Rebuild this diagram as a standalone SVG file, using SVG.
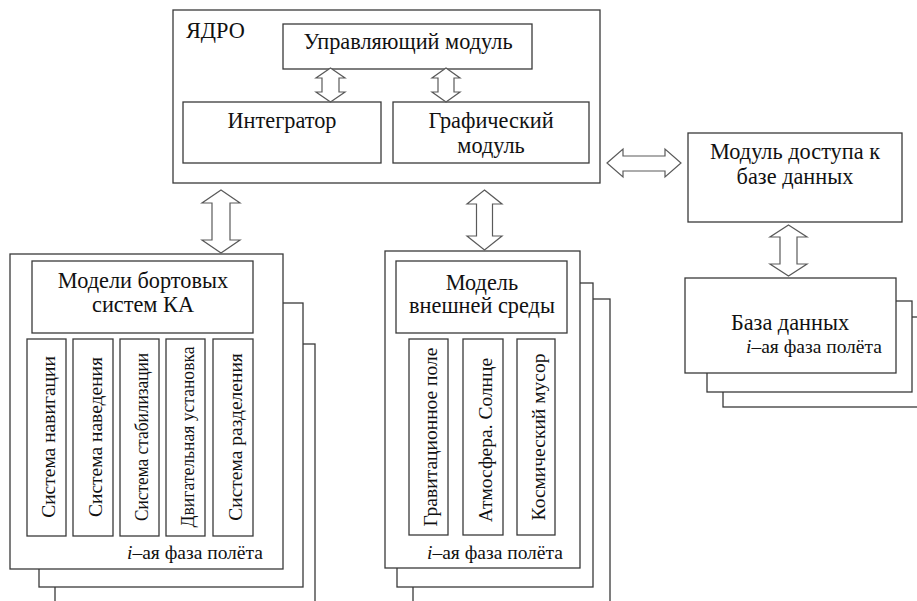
<svg xmlns="http://www.w3.org/2000/svg" width="917" height="601" viewBox="0 0 917 601">
<style>
.box{fill:#fff;stroke:#3a3a3a;stroke-width:1.3}
.arr{fill:#fff;stroke:#5a5a5a;stroke-width:1.2;stroke-linejoin:miter}
.ph{font-size:19.5px}
</style>
<rect width="917" height="601" fill="#fff"/>
<g font-family="Liberation Serif, Times New Roman, serif" fill="#111">
<g font-size="22.3" text-anchor="middle">
<g id="core">
<rect class="box" x="173" y="10" width="427" height="173"/>
<text x="186" y="38" text-anchor="start">ЯДРО</text>
</g>
<g id="control">
<rect class="box" x="283" y="24" width="249" height="45"/>
<text x="408" y="49">Управляющий модуль</text>
</g>
<g id="integrator">
<rect class="box" x="183" y="102" width="198" height="61"/>
<text x="282" y="128">Интегратор</text>
</g>
<g id="graphics">
<rect class="box" x="393" y="102" width="196" height="61"/>
<text x="491" y="128">Графический</text>
<text x="491" y="153">модуль</text>
</g>
<g id="db-access">
<rect class="box" x="688" y="133" width="214" height="89"/>
<text x="795" y="159">Модуль доступа к</text>
<text x="795" y="184">базе данных</text>
</g>
<g id="database">
<rect class="box" x="723" y="317" width="210" height="90"/>
<rect class="box" x="707" y="301" width="205" height="91"/>
<rect class="box" x="685" y="278" width="211" height="95"/>
<text x="790" y="330">База данных</text>
<text class="ph" x="746" y="353" text-anchor="start"><tspan font-style="italic">i</tspan>–ая фаза полёта</text>
</g>
<g id="onboard">
<rect class="box" x="55" y="344" width="260" height="280"/>
<rect class="box" x="39" y="303" width="264" height="284"/>
<rect class="box" x="10" y="254" width="273" height="315"/>
<rect class="box" x="32" y="261" width="221" height="72"/>
<text x="143" y="288">Модели бортовых</text>
<text x="143" y="312">систем КА</text>
<text class="ph" x="127" y="559" text-anchor="start"><tspan font-style="italic">i</tspan>–ая фаза полёта</text>
</g>
<g id="environment">
<rect class="box" x="413" y="299" width="197" height="325"/>
<rect class="box" x="397" y="283" width="196" height="304"/>
<rect class="box" x="385" y="251" width="195" height="317"/>
<rect class="box" x="396" y="261" width="171" height="72"/>
<text x="482" y="290">Модель</text>
<text x="482" y="313">внешней среды</text>
<text class="ph" x="427" y="559" text-anchor="start"><tspan font-style="italic">i</tspan>–ая фаза полёта</text>
</g>
</g>
<g font-size="19.5" text-anchor="middle">
<g id="nav">
<rect class="box" x="27" y="339" width="39" height="197"/>
<text transform="translate(55,437) rotate(-90)">Система навигации</text>
</g>
<g id="guidance">
<rect class="box" x="73" y="339" width="40" height="197"/>
<text transform="translate(102,437) rotate(-90)">Система наведения</text>
</g>
<g id="stabilization">
<rect class="box" x="120" y="339" width="39" height="197"/>
<text transform="translate(148,437) rotate(-90)" textLength="168" lengthAdjust="spacingAndGlyphs">Система стабилизации</text>
</g>
<g id="engine">
<rect class="box" x="166" y="339" width="39" height="197"/>
<text transform="translate(194,437) rotate(-90)" textLength="181" lengthAdjust="spacingAndGlyphs">Двигательная установка</text>
</g>
<g id="separation">
<rect class="box" x="213" y="339" width="40" height="197"/>
<text transform="translate(242,437) rotate(-90)">Система разделения</text>
</g>
<g id="gravity">
<rect class="box" x="409" y="339" width="39" height="196"/>
<text transform="translate(437,437) rotate(-90)">Гравитационное поле</text>
</g>
<g id="atmosphere">
<rect class="box" x="463" y="339" width="40" height="196"/>
<text transform="translate(492,440) rotate(-90)">Атмосфера. Солнце</text>
</g>
<g id="debris">
<rect class="box" x="517" y="339" width="38" height="196"/>
<text transform="translate(545,437) rotate(-90)">Космический мусор</text>
</g>
</g>
</g>
<g id="connectors">
<polygon class="arr" points="330.5,68 345,78 339,78 339,92 345,92 330.5,102 316,92 322,92 322,78 316,78"/>
<polygon class="arr" points="446,68 460,78 454,78 454,92 460,92 446,102 432,92 438,92 438,78 432,78"/>
<polygon class="arr" points="607,163 623,149 623,156 665,156 665,149 681,163 665,177 665,171 623,171 623,177"/>
<polygon class="arr" points="221,190 240,203 230,203 230,240 240,240 221,253 202,240 212,240 212,203 202,203"/>
<polygon class="arr" points="484.5,190 502,204 492.5,204 492.5,236 502,236 484.5,250 467,236 476.5,236 476.5,204 467,204"/>
<polygon class="arr" points="788.5,225 807,237 797,237 797,264 807,264 788.5,276 770,264 780,264 780,237 770,237"/>
</g>
</svg>
